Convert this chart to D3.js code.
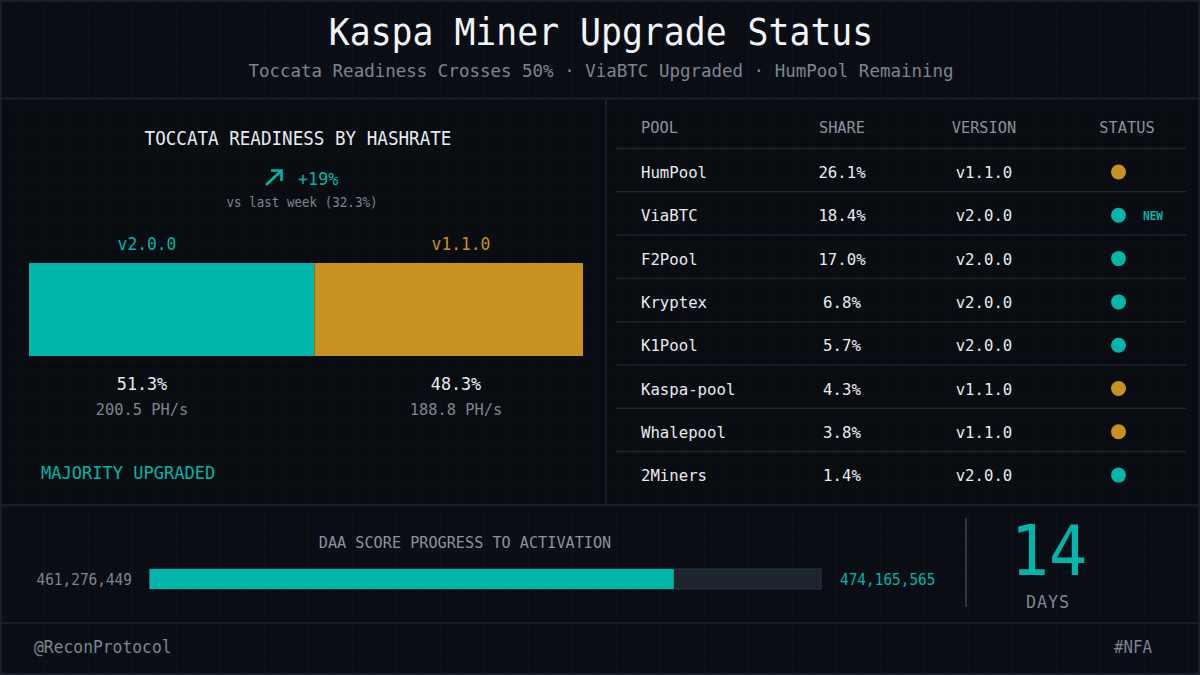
<!DOCTYPE html>
<html>
<head>
<meta charset="utf-8">
<script src="https://cdn.jsdelivr.net/npm/d3@7"></script>
<style>
  html, body { margin: 0; padding: 0; background: #0a0e14; }
  svg { display: block; }
  text { font-family: "DejaVu Sans Mono", "Liberation Mono", monospace; }
</style>
</head>
<body>
<script>
// ---- data ----
const pools    = ["HumPool", "ViaBTC", "F2Pool", "Kryptex", "K1Pool", "Kaspa-pool", "Whalepool", "2Miners"];
const shares   = [26.1, 18.4, 17.0, 6.8, 5.7, 4.3, 3.8, 1.4];
const versions = ["v1.1.0", "v2.0.0", "v2.0.0", "v2.0.0", "v2.0.0", "v1.1.0", "v1.1.0", "v2.0.0"];
const badges   = ["", "NEW", "", "", "", "", "", ""];

const readyVersions = ["v2.0.0", "v1.1.0"];
const readyPct      = [51.3, 48.3];
const readyHash     = [200.5, 188.8];
const weekChange    = 19;
const lastWeekPct   = 32.3;

const daaStart   = 461276449;
const daaTarget  = 474165565;
const daaCurrent = 471340000;   // estimated from bar fill
const daysLeft   = 14;

// ---- look ----
const W = 1200, H = 675;
const teal = "#00b5a9", amber = "#c99120", white = "#e8ebef", grey = "#7d8591", line = "#1d252f";
const verColor = v => v === "v2.0.0" ? teal : amber;

const svg = d3.select("body").append("svg")
    .attr("width", W)
    .attr("height", H);

// faint grid background
const defs = svg.append("defs");
const pat = defs.append("pattern")
    .attr("id", "grid")
    .attr("width", 22).attr("height", 22)
    .attr("patternUnits", "userSpaceOnUse");
pat.append("path")
    .attr("d", "M22 0H0V22")
    .attr("fill", "none")
    .attr("stroke", "rgba(140,160,190,0.045)")
    .attr("stroke-width", 1);

svg.append("rect").attr("width", W).attr("height", H).attr("fill", "#0a0e14");
svg.append("rect").attr("width", W).attr("height", H).attr("fill", "url(#grid)");
svg.append("rect").attr("x", 0).attr("y", 98).attr("width", W).attr("height", 407).attr("fill", "#080b10").attr("opacity", 0.5);

// text helper: monospace squeezed a bit to mimic the condensed face
function txt(g, x, y, s, size, color, anchor, extra) {
    const t = g.append("text")
        .attr("x", x).attr("y", y)
        .attr("font-size", size)
        .attr("fill", color)
        .attr("text-anchor", anchor || "start")
        .text(s);
    if (extra && extra.weight) t.attr("font-weight", extra.weight);
    if (extra && extra.ls) t.attr("letter-spacing", extra.ls);
    const squeeze = extra && extra.squeeze !== undefined ? extra.squeeze : 0.93;
    const len = t.node().getComputedTextLength();
    if (squeeze !== 1) t.attr("textLength", len * squeeze).attr("lengthAdjust", "spacingAndGlyphs");
    return t;
}

// frame lines
const frame = svg.append("g").attr("stroke", line).attr("stroke-width", 1.5).attr("fill", "none");
frame.append("rect").attr("x", 1).attr("y", 1).attr("width", W - 2).attr("height", H - 2);
frame.append("line").attr("x1", 0).attr("x2", W).attr("y1", 98.5).attr("y2", 98.5);
frame.append("line").attr("x1", 0).attr("x2", W).attr("y1", 505).attr("y2", 505);
frame.append("line").attr("x1", 0).attr("x2", W).attr("y1", 623).attr("y2", 623);
frame.append("line").attr("x1", 606).attr("x2", 606).attr("y1", 98.5).attr("y2", 505);
frame.append("line").attr("x1", 966).attr("x2", 966).attr("y1", 518).attr("y2", 607).attr("stroke", "#3a434e");

// ---- header ----
const head = svg.append("g");
txt(head, 601, 45, "Kaspa Miner Upgrade Status", 37, "#f2f4f7", "middle", {squeeze: 0.94});
txt(head, 601, 77, "Toccata Readiness Crosses 50% · ViaBTC Upgraded · HumPool Remaining", 18.5, grey, "middle", {squeeze: 0.945});

// ---- left panel: readiness split bar ----
const left = svg.append("g");
txt(left, 298, 145, "TOCCATA READINESS BY HASHRATE", 19, white, "middle", {squeeze: 0.925});

left.append("path")
    .attr("d", "M266 185L281 171M271 170.5H281.5V181")
    .attr("fill", "none")
    .attr("stroke", teal)
    .attr("stroke-width", 2.6);
txt(left, 298, 185, "+" + weekChange + "%", 18, teal, "start");
txt(left, 302, 207, "vs last week (" + lastWeekPct + "%)", 13.5, grey, "middle");

const total = d3.sum(readyPct);
const xSplit = d3.scaleLinear().domain([0, total]).range([29, 583]);
const labelX = d3.scalePoint().domain(readyVersions).range([142, 456]);
const starts = d3.cumsum([0].concat(readyPct.slice(0, -1)));

left.selectAll("rect.seg")
    .data(readyVersions)
    .join("rect")
    .attr("class", "seg")
    .attr("x", (d, i) => xSplit(starts[i]))
    .attr("width", (d, i) => xSplit(starts[i] + readyPct[i]) - xSplit(starts[i]))
    .attr("y", 263)
    .attr("height", 93)
    .attr("fill", d => verColor(d));

readyVersions.forEach((v, i) => {
    txt(left, labelX(v) + 5, 250, v, 17.5, verColor(v), "middle");
    txt(left, labelX(v), 390, readyPct[i].toFixed(1) + "%", 18, white, "middle");
    txt(left, labelX(v), 415, readyHash[i].toFixed(1) + " PH/s", 16.5, grey, "middle");
});

txt(left, 41, 479, "MAJORITY UPGRADED", 18.5, teal, "start", {squeeze: 0.92});

// ---- right panel: pool table ----
const tbl = svg.append("g");
const cols = {pool: 641, share: 842, version: 984, status: 1127};
const y = d3.scaleBand().domain(pools).range([148.5, 148.5 + 43.3 * pools.length]);

txt(tbl, cols.pool, 133, "POOL", 16.5, "#8a929d", "start");
txt(tbl, cols.share, 133, "SHARE", 16.5, "#8a929d", "middle");
txt(tbl, cols.version, 133, "VERSION", 16.5, "#8a929d", "middle");
txt(tbl, cols.status, 133, "STATUS", 16.5, "#8a929d", "middle");

const rows = tbl.selectAll("g.row")
    .data(pools)
    .join("g")
    .attr("class", "row")
    .attr("transform", d => "translate(0," + y(d) + ")");

rows.append("line")
    .attr("x1", 616).attr("x2", 1186)
    .attr("stroke", line).attr("stroke-width", 1.5);

rows.each(function(p, i) {
    const r = d3.select(this);
    txt(r, cols.pool, 29.5, p, 16.5, white, "start", {squeeze: 0.95});
    txt(r, cols.share, 29.5, shares[i].toFixed(1) + "%", 16.5, white, "middle", {squeeze: 0.95});
    txt(r, cols.version, 29.5, versions[i], 16.5, white, "middle", {squeeze: 0.95});
    r.append("circle")
        .attr("cx", 1118.5).attr("cy", 23.5).attr("r", 7.5)
        .attr("fill", verColor(versions[i]));
    if (badges[i]) txt(r, 1143, 28.5, badges[i], 13, teal, "start", {weight: "bold", squeeze: 0.85});
});

// ---- bottom: DAA progress + countdown ----
const bot = svg.append("g");
txt(bot, 465, 548, "DAA SCORE PROGRESS TO ACTIVATION", 16.5, "#8a929d", "middle", {squeeze: 0.92});

const xDaa = d3.scaleLinear().domain([daaStart, daaTarget]).range([149.5, 821]);
const fmt = d3.format(",");

bot.append("rect")
    .attr("x", xDaa(daaStart)).attr("y", 569)
    .attr("width", xDaa(daaTarget) - xDaa(daaStart)).attr("height", 20)
    .attr("fill", "#1c242e").attr("stroke", "#2c3540").attr("stroke-width", 1);
bot.append("rect")
    .attr("x", xDaa(daaStart)).attr("y", 569)
    .attr("width", xDaa(daaCurrent) - xDaa(daaStart)).attr("height", 20)
    .attr("fill", teal);

txt(bot, 132, 585, fmt(daaStart), 15.5, grey, "end");
txt(bot, 840, 585, fmt(daaTarget), 15.5, teal, "start");

txt(bot, 1049, 575, String(daysLeft), 69, teal, "middle", {squeeze: 0.92});
txt(bot, 1048, 608, "DAYS", 18, grey, "middle", {ls: 1});

// ---- footer ----
const foot = svg.append("g");
txt(foot, 34, 653, "@ReconProtocol", 17, grey, "start", {squeeze: 0.96});
txt(foot, 1152, 653, "#NFA", 17, grey, "end");
</script>
</body>
</html>
